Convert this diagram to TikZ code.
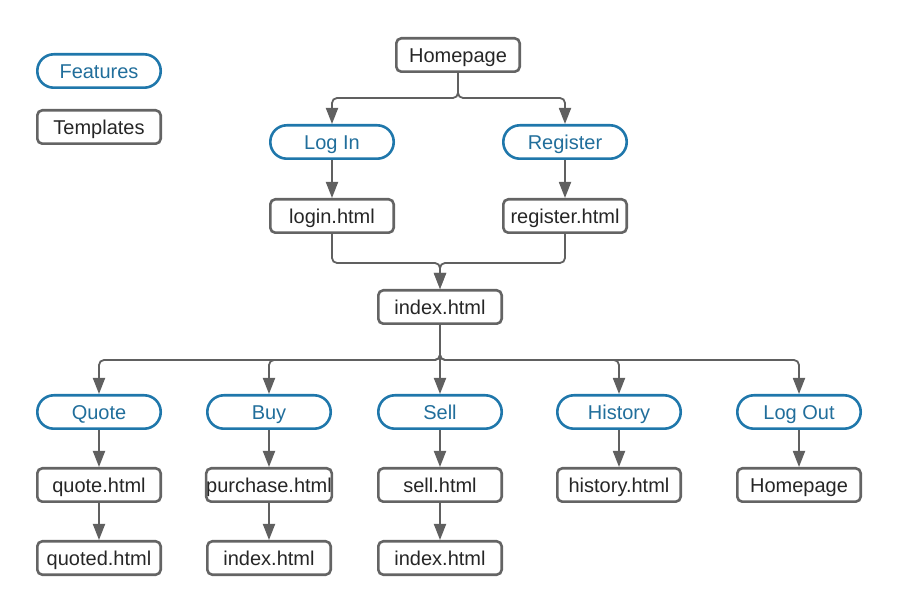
\documentclass[tikz,border=0pt]{standalone}
\usepackage{fontspec}
\setmainfont{Liberation Sans}
\usetikzlibrary{arrows.meta}
\definecolor{featblue}{RGB}{31,119,171}
\definecolor{feattext}{RGB}{33,110,155}
\definecolor{boxgray}{RGB}{100,100,100}
\definecolor{linegray}{RGB}{96,96,96}
\definecolor{textdark}{RGB}{38,38,38}
\begin{document}
\begin{tikzpicture}[x=1pt,y=-1pt,
  base/.style={line width=2.6pt, minimum width=123.4pt, minimum height=33.4pt, inner sep=0pt,
    text height=17.5pt, text depth=3pt, font=\fontsize{20}{23}\selectfont},
  feat/.style={base, draw=featblue, rounded corners=16.5pt, text=feattext},
  tmpl/.style={base, draw=boxgray, rounded corners=5pt, text=textdark},
  conn/.style={draw=linegray, line width=1.8pt, rounded corners=5pt,
    -{Triangle[width=12pt,length=16pt]}}
]
\useasboundingbox (0,0) rectangle (898,612);
% legend
\node[feat] (legf) at (99,71) {Features};
\node[tmpl] (legt) at (99,127) {Templates};
% top
\node[tmpl] (home) at (458,55) {Homepage};
\node[feat] (login) at (332,142) {Log In};
\node[feat] (reg) at (565,142) {Register};
\node[tmpl] (loginh) at (332,216) {login.html};
\node[tmpl] (regh) at (565,216) {register.html};
\node[tmpl] (index) at (440,307) {index.html};
% features row
\node[feat] (quote) at (99,412) {Quote};
\node[feat] (buy) at (269,412) {Buy};
\node[feat] (sell) at (440,412) {Sell};
\node[feat] (hist) at (619,412) {History};
\node[feat] (logout) at (799,412) {Log Out};
% second row
\node[tmpl] (quoteh) at (99,485) {quote.html};
\node[tmpl] (purch) at (269,485) {purchase.html};
\node[tmpl] (sellh) at (440,485) {sell.html};
\node[tmpl] (histh) at (619,485) {history.html};
\node[tmpl] (home2) at (799,485) {Homepage};
% third row
\node[tmpl] (quoted) at (99,558) {quoted.html};
\node[tmpl] (index2) at (269,558) {index.html};
\node[tmpl] (index3) at (440,558) {index.html};
% junctions
\coordinate (j1) at (458,98);
\coordinate (j2) at (440,263);
\coordinate (j3) at (440,360);
% connectors
\draw[conn] (home.south) -- (j1) -| (login.north);
\draw[conn] (home.south) -- (j1) -| (reg.north);
\draw[conn] (login.south) -- (loginh.north);
\draw[conn] (reg.south) -- (regh.north);
\draw[conn] (loginh.south) |- (j2) -- (index.north);
\draw[conn] (regh.south) |- (j2) -- (index.north);
\draw[conn] (index.south) -- (j3) -| (quote.north);
\draw[conn] (index.south) -- (j3) -| (buy.north);
\draw[conn] (index.south) -- (sell.north);
\draw[conn] (index.south) -- (j3) -| (hist.north);
\draw[conn] (index.south) -- (j3) -| (logout.north);
\draw[conn] (quote.south) -- (quoteh.north);
\draw[conn] (buy.south) -- (purch.north);
\draw[conn] (sell.south) -- (sellh.north);
\draw[conn] (hist.south) -- (histh.north);
\draw[conn] (logout.south) -- (home2.north);
\draw[conn] (quoteh.south) -- (quoted.north);
\draw[conn] (purch.south) -- (index2.north);
\draw[conn] (sellh.south) -- (index3.north);
\end{tikzpicture}
\end{document}
